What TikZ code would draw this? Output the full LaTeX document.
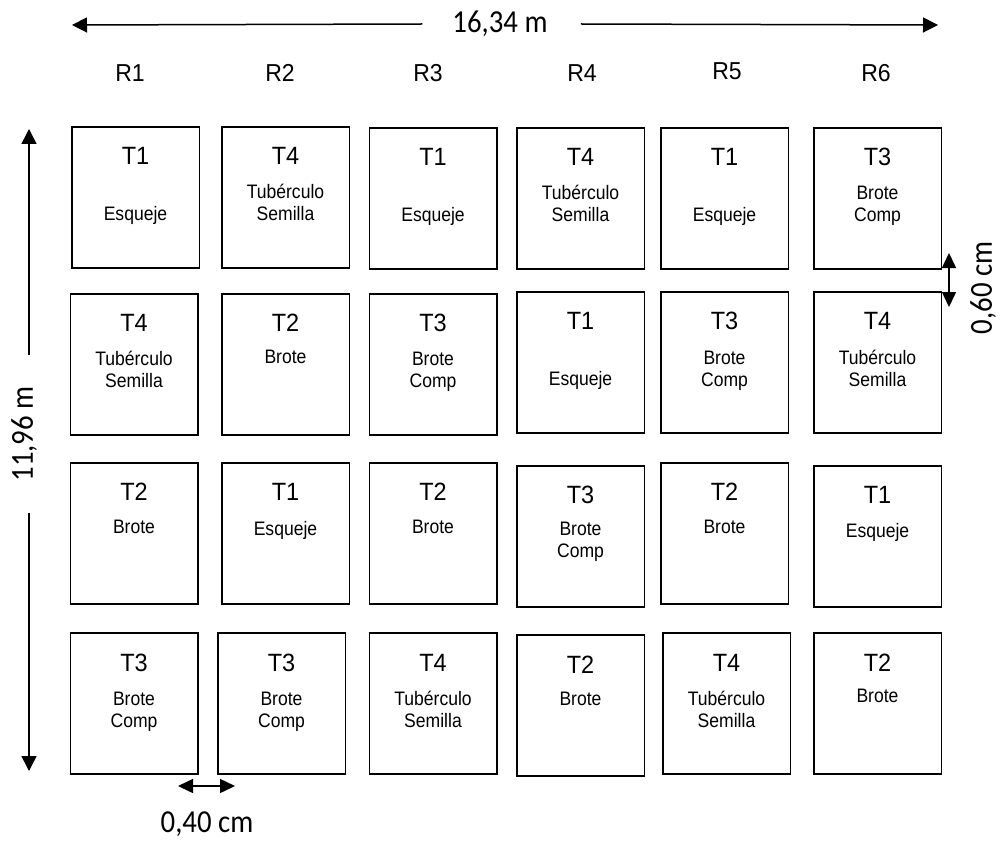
\documentclass[tikz,border=0pt]{standalone}
\usepackage{fontspec}
\setmainfont{Liberation Sans}
\newfontfamily\labfont[FakeStretch=0.94]{Liberation Sans}
\newfontfamily\descfont[FakeStretch=0.9]{Liberation Sans}
\newfontfamily\dimfont[FakeStretch=0.9]{Carlito}
\usetikzlibrary{arrows.meta, positioning}

\begin{document}
\begin{tikzpicture}[
        x=1pt, y=-1pt,
        plot/.style={rectangle, draw, line width=1.5pt, minimum width=127.5pt, minimum height=141pt, inner sep=0pt},
        tnum/.style={font=\labfont\fontsize{25}{29}\selectfont, anchor=base, inner sep=0pt},
        desc/.style={font=\descfont\fontsize{19.5}{22}\selectfont, align=center, anchor=base, inner sep=0pt},
        rlab/.style={font=\labfont\fontsize{24.5}{28}\selectfont},
        dimlab/.style={font=\dimfont\fontsize{32}{36}\selectfont, inner sep=0pt},
        dimarrow/.style={line width=1.5pt, -{Triangle[length=15pt, width=15pt]}},
        dimboth/.style={line width=1.5pt, {Triangle[length=15pt, width=14pt]}-{Triangle[length=15pt, width=14pt]}}
    ]
        \path[use as bounding box, fill=white] (0,0) rectangle (1003,842);

        % Repeticiones
        \node[rlab] (rep1) at (130,73) {R1};
        \node[rlab] (rep2) at (280,73) {R2};
        \node[rlab] (rep3) at (428,73) {R3};
        \node[rlab] (rep4) at (582,73) {R4};
        \node[rlab] (rep5) at (727,71) {R5};
        \node[rlab] (rep6) at (876,73) {R6};

        % Fila 1
        \node[plot] (p11) at (135.5,197.5) {};
        \node[tnum] at ([yshift=-38pt]p11.north) {T1};
        \node[desc] at ([yshift=-94pt]p11.north) {Esqueje};
        \node[plot] (p12) at (285.5,197.5) {};
        \node[tnum] at ([yshift=-38pt]p12.north) {T4};
        \node[desc] at ([yshift=-94pt]p12.north) {Tubérculo\\Semilla};
        \node[plot] (p13) at (433,198.5) {};
        \node[tnum] at ([yshift=-38pt]p13.north) {T1};
        \node[desc] at ([yshift=-94pt]p13.north) {Esqueje};
        \node[plot] (p14) at (580.5,198.5) {};
        \node[tnum] at ([yshift=-38pt]p14.north) {T4};
        \node[desc] at ([yshift=-94pt]p14.north) {Tubérculo\\Semilla};
        \node[plot] (p15) at (724.5,198.5) {};
        \node[tnum] at ([yshift=-38pt]p15.north) {T1};
        \node[desc] at ([yshift=-94pt]p15.north) {Esqueje};
        \node[plot] (p16) at (877.5,198.5) {};
        \node[tnum] at ([yshift=-38pt]p16.north) {T3};
        \node[desc] at ([yshift=-94pt]p16.north) {Brote\\Comp};

        % Fila 2
        \node[plot] (p21) at (134,364.5) {};
        \node[tnum] at ([yshift=-38pt]p21.north) {T4};
        \node[desc] at ([yshift=-94pt]p21.north) {Tubérculo\\Semilla};
        \node[plot] (p22) at (285.5,364.5) {};
        \node[tnum] at ([yshift=-38pt]p22.north) {T2};
        \node[desc] at ([yshift=-70pt]p22.north) {Brote};
        \node[plot] (p23) at (433,364.5) {};
        \node[tnum] at ([yshift=-38pt]p23.north) {T3};
        \node[desc] at ([yshift=-94pt]p23.north) {Brote\\Comp};
        \node[plot] (p24) at (580.5,362.5) {};
        \node[tnum] at ([yshift=-38pt]p24.north) {T1};
        \node[desc] at ([yshift=-94pt]p24.north) {Esqueje};
        \node[plot] (p25) at (724.5,362.5) {};
        \node[tnum] at ([yshift=-38pt]p25.north) {T3};
        \node[desc] at ([yshift=-95pt]p25.north) {Brote\\Comp};
        \node[plot] (p26) at (877.5,362.5) {};
        \node[tnum] at ([yshift=-38pt]p26.north) {T4};
        \node[desc] at ([yshift=-95pt]p26.north) {Tubérculo\\Semilla};

        % Fila 3
        \node[plot] (p31) at (134,533.5) {};
        \node[tnum] at ([yshift=-38pt]p31.north) {T2};
        \node[desc] at ([yshift=-71pt]p31.north) {Brote};
        \node[plot] (p32) at (285.5,533.5) {};
        \node[tnum] at ([yshift=-38pt]p32.north) {T1};
        \node[desc] at ([yshift=-73pt]p32.north) {Esqueje};
        \node[plot] (p33) at (433,533.5) {};
        \node[tnum] at ([yshift=-38pt]p33.north) {T2};
        \node[desc] at ([yshift=-71pt]p33.north) {Brote};
        \node[plot] (p34) at (580.5,536.5) {};
        \node[tnum] at ([yshift=-38pt]p34.north) {T3};
        \node[desc] at ([yshift=-92pt]p34.north) {Brote\\Comp};
        \node[plot] (p35) at (724.5,533.5) {};
        \node[tnum] at ([yshift=-38pt]p35.north) {T2};
        \node[desc] at ([yshift=-71pt]p35.north) {Brote};
        \node[plot] (p36) at (877.5,536.5) {};
        \node[tnum] at ([yshift=-38pt]p36.north) {T1};
        \node[desc] at ([yshift=-72pt]p36.north) {Esqueje};

        % Fila 4
        \node[plot] (p41) at (134,703.5) {};
        \node[tnum] at ([yshift=-39pt]p41.north) {T3};
        \node[desc] at ([yshift=-95pt]p41.north) {Brote\\Comp};
        \node[plot] (p42) at (281.5,703.5) {};
        \node[tnum] at ([yshift=-39pt]p42.north) {T3};
        \node[desc] at ([yshift=-95pt]p42.north) {Brote\\Comp};
        \node[plot] (p43) at (433,703.5) {};
        \node[tnum] at ([yshift=-39pt]p43.north) {T4};
        \node[desc] at ([yshift=-95pt]p43.north) {Tubérculo\\Semilla};
        \node[plot] (p44) at (580.5,705.5) {};
        \node[tnum] at ([yshift=-39pt]p44.north) {T2};
        \node[desc] at ([yshift=-71pt]p44.north) {Brote};
        \node[plot] (p45) at (726.5,703.5) {};
        \node[tnum] at ([yshift=-39pt]p45.north) {T4};
        \node[desc] at ([yshift=-95pt]p45.north) {Tubérculo\\Semilla};
        \node[plot] (p46) at (877.5,703.5) {};
        \node[tnum] at ([yshift=-39pt]p46.north) {T2};
        \node[desc] at ([yshift=-70pt]p46.north) {Brote};

        % Cotas
        \node[dimlab] (dimw) at (500,24) {16,34 m};
        \coordinate (wleft) at (72,25);
        \coordinate (wright) at (938,25);
        \draw[dimarrow] ([xshift=-30pt]dimw.west) -- (wleft);
        \draw[dimarrow] ([xshift=33pt]dimw.east) -- (wright);

        \node[dimlab, rotate=90] (dimh) at (24,434) {11,96 m};
        \coordinate (htop) at (29,129);
        \coordinate (hbot) at (29,771);
        \draw[dimarrow] ([xshift=5pt, yshift=31pt]dimh.east) -- (htop);
        \draw[dimarrow] ([xshift=5pt, yshift=-31pt]dimh.west) -- (hbot);

        \node[dimlab, rotate=90] (dimgap) at (983,288) {0,60 cm};
        \coordinate (gtop) at (949,253);
        \coordinate (gbot) at (949,307);
        \draw[dimboth] (gtop) -- (gbot);

        \node[dimlab] (dimsep) at (207,824) {0,40 cm};
        \coordinate (sleft) at (178,786);
        \coordinate (sright) at (235,786);
        \draw[dimboth] (sleft) -- (sright);
    \end{tikzpicture}
\end{document}
